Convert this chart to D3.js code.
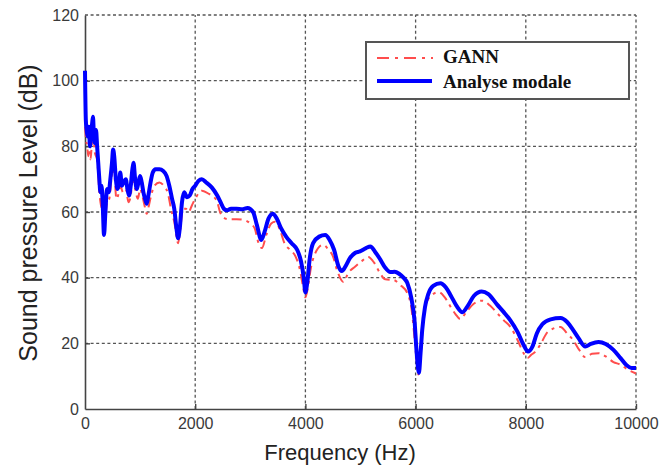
<!DOCTYPE html>
<html>
<head>
<meta charset="utf-8">
<script src="https://cdn.jsdelivr.net/npm/d3@7/dist/d3.min.js"></script>
<style>
  html, body { margin: 0; padding: 0; background: #fff; }
  svg { display: block; }
</style>
</head>
<body>
<svg id="chart" width="669" height="468"></svg>
<script>
// Modal analysis spectrum (Hz, dB)
const modalFreq = [0, 15, 30, 50, 70, 90, 110, 130, 145, 160, 180, 200, 220, 240, 260, 280, 300, 320, 345, 370,
  400, 430, 460, 490, 510, 530, 560, 590, 620, 640, 670, 700, 740, 770, 800, 830, 860, 880, 910, 940,
  970, 1000, 1030, 1060, 1090, 1120, 1150, 1190, 1230, 1280, 1350, 1420, 1480, 1530, 1580, 1620, 1660, 1690, 1720, 1760,
  1800, 1850, 1900, 1950, 2000, 2060, 2120, 2200, 2300, 2400, 2460, 2520, 2580, 2650, 2750, 2850, 2950, 3050, 3120, 3200,
  3260, 3330, 3410, 3480, 3560, 3650, 3750, 3850, 3920, 3970, 4000, 4030, 4080, 4140, 4250, 4360, 4440, 4520, 4600, 4660,
  4730, 4810, 4900, 4990, 5100, 5180, 5260, 5360, 5450, 5540, 5620, 5700, 5780, 5850, 5920, 5980, 6020, 6060, 6090, 6120,
  6170, 6230, 6320, 6450, 6550, 6640, 6740, 6850, 6950, 7060, 7200, 7320, 7480, 7600, 7720, 7850, 7960, 8040, 8120, 8200,
  8300, 8450, 8630, 8750, 8860, 8960, 9080, 9180, 9320, 9450, 9590, 9720, 9830, 9920, 10000];
const modalLevel = [103, 88, 85, 83, 86, 80, 84, 87, 89, 84, 81, 85, 80, 75, 70, 66, 68, 63, 53, 60,
  67, 66, 70, 75, 79, 77, 70, 67, 69, 72, 68, 69, 70, 67, 65, 68, 73, 75, 70, 67,
  69, 71, 69, 66, 64, 62.5, 65, 69, 72, 73, 73, 72.5, 71, 68, 64, 61, 55, 52, 55, 63,
  66, 64.5, 65, 67, 68, 69.5, 70, 69, 67.5, 65, 63, 61, 60.5, 61, 61, 60.8, 61.2, 60, 56, 51.5,
  54, 58, 59.5, 58, 55, 52.5, 50.5, 48.5, 45, 40, 35.5, 38, 46, 50.5, 52.5, 53, 51.5, 48.5, 43.5, 42,
  43.5, 46, 47.5, 48, 49, 49.5, 48, 45.5, 43, 41.7, 41.8, 41.2, 40, 38.4, 34, 27, 17, 11, 17, 24,
  31, 35, 37.5, 38.3, 37, 34.5, 31.5, 29.5, 31.5, 34.5, 35.8, 35, 31.8, 29.5, 27, 23.5, 19.5, 17.5, 19, 23,
  25.8, 27.3, 27.7, 26.5, 24, 21.5, 19, 19.8, 20.4, 19.8, 18, 15.5, 13.3, 12.5, 12.5];

// GANN prediction (Hz, dB)
const gannFreq = [0, 20, 40, 60, 80, 100, 130, 150, 180, 220, 260, 290, 320, 345, 370, 400, 440, 480, 510, 540,
  570, 600, 640, 690, 740, 790, 830, 870, 910, 960, 1000, 1040, 1080, 1120, 1160, 1200, 1260, 1350, 1450, 1500,
  1560, 1620, 1690, 1730, 1780, 1830, 1880, 1940, 2000, 2120, 2250, 2390, 2450, 2500, 2600, 2750, 2900, 3000, 3080, 3150,
  3210, 3290, 3380, 3450, 3540, 3620, 3720, 3820, 3900, 3960, 4000, 4040, 4100, 4180, 4320, 4420, 4500, 4580, 4690, 4780,
  4900, 5020, 5140, 5250, 5350, 5450, 5600, 5720, 5850, 5930, 5990, 6050, 6090, 6130, 6170, 6280, 6420, 6530, 6640, 6720,
  6810, 6920, 7050, 7210, 7350, 7480, 7600, 7720, 7850, 7960, 8030, 8100, 8170, 8260, 8400, 8630, 8750, 8860, 8970, 9080,
  9200, 9320, 9450, 9590, 9720, 9850, 10000];
const gannLevel = [86, 82, 80, 77, 79, 76, 82, 84, 78, 76, 66, 62, 60, 55, 58, 63, 64, 70, 74, 70,
  64, 65, 68, 66, 67, 63, 65, 70, 67, 64, 67, 65, 62, 59.5, 62, 65, 68, 69, 67.5, 66,
  61, 57, 50.5, 55, 61, 61, 60, 62, 64, 66.5, 65.5, 63.5, 60, 58.5, 57.8, 57.8, 57.5, 56.5, 55, 50.5,
  49, 53, 56.5, 57, 54.5, 50.5, 48.5, 46.5, 42.5, 37, 34, 36.5, 43, 47.5, 50, 48.5, 46.5, 42, 38.7, 41.5,
  43.3, 45, 46.3, 44.5, 41.5, 39.5, 39.3, 37.8, 35.3, 30, 20, 10.5, 16, 25, 31, 34.5, 35.6, 34, 31, 29,
  27.4, 29.5, 32, 33, 31.5, 29.2, 27, 25, 21, 17, 15.5, 16.5, 17.4, 19.5, 23.5, 25, 23, 21, 18, 15.8,
  16.8, 17, 16, 14.3, 13.5, 12, 10.8];

const xTicks = [0, 2000, 4000, 6000, 8000, 10000];
const yTicks = [0, 20, 40, 60, 80, 100, 120];
const seriesNames = ["GANN", "Analyse modale"];

const svg = d3.select("#chart");
const margin = { top: 15, right: 33, bottom: 59, left: 85 };
const W = 669, H = 468;
const iw = W - margin.left - margin.right;
const ih = H - margin.top - margin.bottom;

const x = d3.scaleLinear().domain([0, 10000]).range([margin.left, margin.left + iw]);
const y = d3.scaleLinear().domain([0, 120]).range([margin.top + ih, margin.top]);

// dotted grid
const grid = svg.append("g").attr("stroke", "#555").attr("stroke-width", 1.3)
  .attr("stroke-dasharray", "3,2.6");
grid.selectAll("line.h").data(yTicks.filter(d => d > 0)).join("line")
  .attr("x1", x(0)).attr("x2", x(10000))
  .attr("y1", d => y(d)).attr("y2", d => y(d));
grid.selectAll("line.v").data(xTicks.filter(d => d > 0)).join("line")
  .attr("x1", d => x(d)).attr("x2", d => x(d))
  .attr("y1", y(0)).attr("y2", y(120));

// axes
const xAxis = d3.axisBottom(x).tickValues(xTicks).tickFormat(d3.format("d"))
  .tickSizeInner(-5).tickSizeOuter(0).tickPadding(9);
const yAxis = d3.axisLeft(y).tickValues(yTicks).tickFormat(d3.format("d"))
  .tickSizeInner(-5).tickSizeOuter(0).tickPadding(6);

const gx = svg.append("g").attr("transform", `translate(0,${y(0)})`).call(xAxis);
const gy = svg.append("g").attr("transform", `translate(${x(0)},0)`).call(yAxis);
[gx, gy].forEach(g => {
  g.select(".domain").attr("stroke", "#444").attr("stroke-width", 1.6);
  g.selectAll(".tick line").attr("stroke", "#444").attr("stroke-width", 1.4);
  g.selectAll(".tick text").attr("fill", "#3a3a3a")
    .style("font-family", "'Liberation Sans', Arial, sans-serif").style("font-size", "16px");
});
gy.selectAll(".tick line").filter(d => d === 0 || d === 120).remove();
gx.selectAll(".tick line").filter(d => d === 0).remove();

// series lines
const line = (fs, ls) => d3.line()
  .x((d, i) => x(fs[i]))
  .y((d, i) => y(ls[i]))
  .curve(d3.curveMonotoneX)(ls);

svg.append("path").attr("d", line(gannFreq, gannLevel))
  .attr("fill", "none").attr("stroke", "#ff4d4d").attr("stroke-width", 2)
  .attr("stroke-dasharray", "10,5,3,5");
svg.append("path").attr("d", line(modalFreq, modalLevel))
  .attr("fill", "none").attr("stroke", "#0000ff").attr("stroke-width", 4)
  .attr("stroke-linejoin", "round");

// axis titles
svg.append("text").attr("x", 340).attr("y", 460).attr("text-anchor", "middle")
  .style("font-family", "'Liberation Sans', Arial, sans-serif").style("font-size", "22px")
  .attr("fill", "#222").text("Frequency (Hz)");
svg.append("text").attr("transform", "translate(37,213) rotate(-90)").attr("text-anchor", "middle")
  .style("font-family", "'Liberation Sans', Arial, sans-serif").style("font-size", "25px")
  .attr("fill", "#222").text("Sound pressure Level (dB)");

// legend
const lg = svg.append("g");
lg.append("rect").attr("x", 366).attr("y", 42).attr("width", 263).attr("height", 57)
  .attr("fill", "#fff").attr("stroke", "#555").attr("stroke-width", 2);
lg.append("line").attr("x1", 377).attr("x2", 433).attr("y1", 58).attr("y2", 58)
  .attr("stroke", "#ff4d4d").attr("stroke-width", 2).attr("stroke-dasharray", "12,6,3,6");
lg.append("line").attr("x1", 377).attr("x2", 432).attr("y1", 81).attr("y2", 81)
  .attr("stroke", "#0000ff").attr("stroke-width", 4);
lg.selectAll("text").data(seriesNames).join("text")
  .attr("x", 443).attr("y", (d, i) => 63 + i * 24.5)
  .style("font-family", "'Liberation Serif', 'Times New Roman', serif")
  .style("font-weight", "bold").style("font-size", "19px")
  .attr("fill", "#111").text(d => d);
</script>
</body>
</html>
